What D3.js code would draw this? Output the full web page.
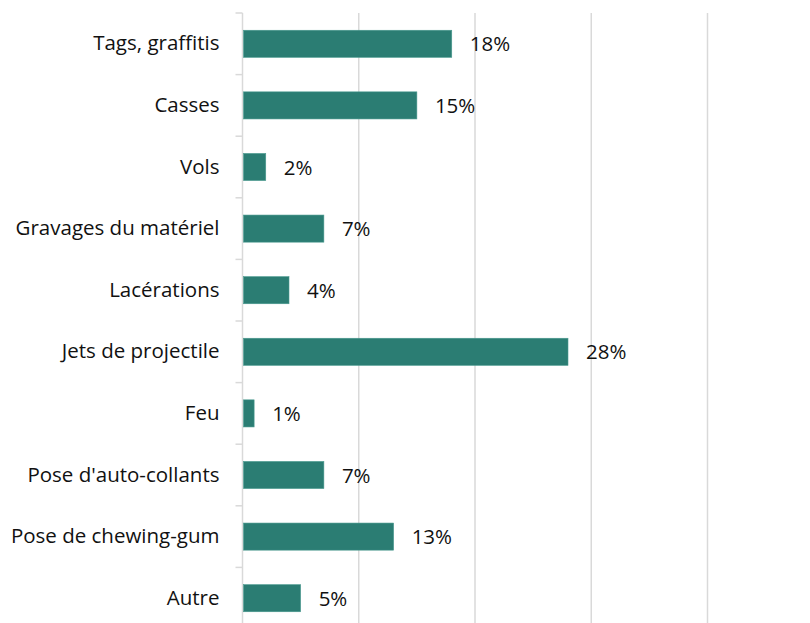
<!DOCTYPE html>
<html>
<head>
<meta charset="utf-8">
<script src="https://cdn.jsdelivr.net/npm/d3@7"></script>
<style>
  html, body { margin: 0; padding: 0; background: #ffffff; }
  svg text { font-family: "Open Sans", "Liberation Sans", sans-serif; fill: #111; }
</style>
</head>
<body>
<svg id="chart" width="810" height="623"></svg>
<script>
// Types de dégradations (part en %)
const categories = [
  "Tags, graffitis",
  "Casses",
  "Vols",
  "Gravages du matériel",
  "Lacérations",
  "Jets de projectile",
  "Feu",
  "Pose d'auto-collants",
  "Pose de chewing-gum",
  "Autre"
];
const values = [18, 15, 2, 7, 4, 28, 1, 7, 13, 5];
const gridTicks = [0, 10, 20, 30, 40];

const svg = d3.select("#chart");
const plotLeft = 242.5, plotRight = 707.5, plotTop = 13, plotBottom = 629;

const x = d3.scaleLinear().domain([0, 40]).range([plotLeft, plotRight]);
const y = d3.scaleBand().domain(categories).range([plotTop, plotBottom])
  .paddingInner(0.56).paddingOuter(0.28);

const barColor = "#2b7d73";
const gridColor = "#d9d9d9";
const fontSize = 20.5;

// vertical gridlines
svg.append("g").selectAll("line")
  .data(gridTicks.slice(1))
  .join("line")
  .attr("x1", d => x(d)).attr("x2", d => x(d))
  .attr("y1", plotTop).attr("y2", plotBottom)
  .attr("stroke", gridColor).attr("stroke-width", 1.5);

// category axis line and tick marks at band boundaries
const step = y.step();
const boundaries = categories.map(c => y(c) - y.paddingInner() * step / 2);
boundaries.push(plotBottom);
svg.append("line")
  .attr("x1", plotLeft).attr("x2", plotLeft)
  .attr("y1", plotTop).attr("y2", plotBottom)
  .attr("stroke", gridColor).attr("stroke-width", 1.5);
svg.append("g").selectAll("line")
  .data(boundaries)
  .join("line")
  .attr("x1", plotLeft - 7).attr("x2", plotLeft)
  .attr("y1", d => d).attr("y2", d => d)
  .attr("stroke", gridColor).attr("stroke-width", 1.5);

// bars
svg.append("g").selectAll("rect")
  .data(categories)
  .join("rect")
  .attr("x", x(0) + 1)
  .attr("y", d => y(d))
  .attr("width", (d, i) => x(values[i]) - x(0) - 1)
  .attr("height", y.bandwidth())
  .attr("fill", barColor)
  .attr("stroke", "#4a9a8f")
  .attr("stroke-width", 0.6);

// category labels
svg.append("g").selectAll("text")
  .data(categories)
  .join("text")
  .attr("x", plotLeft - 23)
  .attr("y", d => y(d) + y.bandwidth() / 2 - 1.5)
  .attr("text-anchor", "end")
  .attr("dominant-baseline", "central")
  .attr("font-size", fontSize)
  .text(d => d);

// value labels
svg.append("g").selectAll("text")
  .data(categories)
  .join("text")
  .attr("x", (d, i) => x(values[i]) + 18)
  .attr("y", d => y(d) + y.bandwidth() / 2 - 0.5)
  .attr("dominant-baseline", "central")
  .attr("font-size", fontSize)
  .text((d, i) => values[i] + "%");
</script>
</body>
</html>
